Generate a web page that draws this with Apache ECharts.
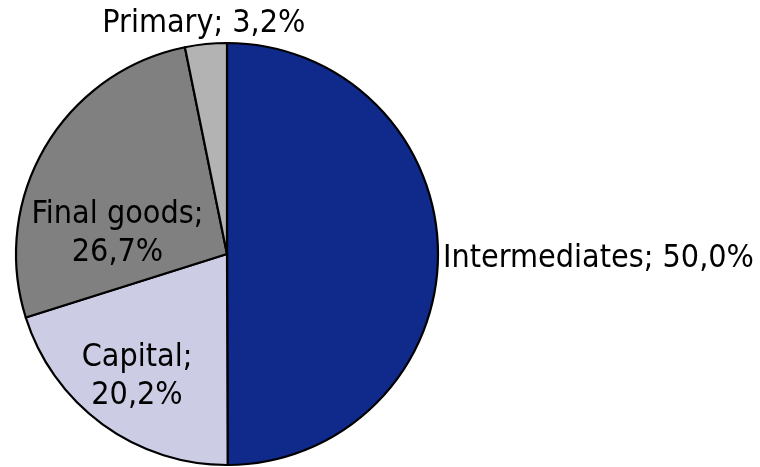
<!DOCTYPE html>
<html>
<head>
<meta charset="utf-8">
<script src="https://cdn.jsdelivr.net/npm/echarts@6/dist/echarts.min.js"></script>
<style>
  html, body { margin: 0; padding: 0; background: #fff; }
  #chart { width: 760px; height: 467px; }
</style>
</head>
<body>
<div id="chart"></div>
<script>
// Shares of trade by product type (percent)
const categories = ['Intermediates', 'Capital', 'Final goods', 'Primary'];
const shares = [50.0, 20.2, 26.7, 3.2];
const sliceColors = ['#0F2A8A', '#CCCCE5', '#808080', '#B3B3B3'];
// Slices whose label sits inside the pie, on two lines
const insideLabel = [false, true, true, false];
// Fine label nudges (px) per slice
const labelShift = [
  { dx: 0, dy: 5 },
  { dx: -26, dy: 35 },
  { dx: -16, dy: 35 },
  { dx: 3, dy: -20, align: 'center' }
];

const fmt = v => v.toFixed(1).replace('.', ',') + '%';

const chart = echarts.init(document.getElementById('chart'), null, { renderer: 'canvas' });

chart.setOption({
  animation: false,
  backgroundColor: '#ffffff',
  series: [{
    type: 'pie',
    center: [227, 254],
    radius: [0, 211],
    startAngle: 90,
    clockwise: true,
    avoidLabelOverlap: false,
    itemStyle: { borderColor: '#000000', borderWidth: 2.2 },
    label: {
      color: '#000000',
      fontFamily: '"DejaVu Sans Condensed", "DejaVu Sans", sans-serif',
      fontSize: 32,
      lineHeight: 38,
      formatter: p => p.name + ';' + (insideLabel[p.dataIndex] ? '\n' : ' ') + fmt(p.value)
    },
    labelLine: { show: false, length: 0, length2: 0 },
    labelLayout: p => labelShift[p.dataIndex],
    data: categories.map((name, i) => ({
      name: name,
      value: shares[i],
      itemStyle: { color: sliceColors[i] },
      label: { position: insideLabel[i] ? 'inside' : 'outside' }
    }))
  }]
});
</script>
</body>
</html>
